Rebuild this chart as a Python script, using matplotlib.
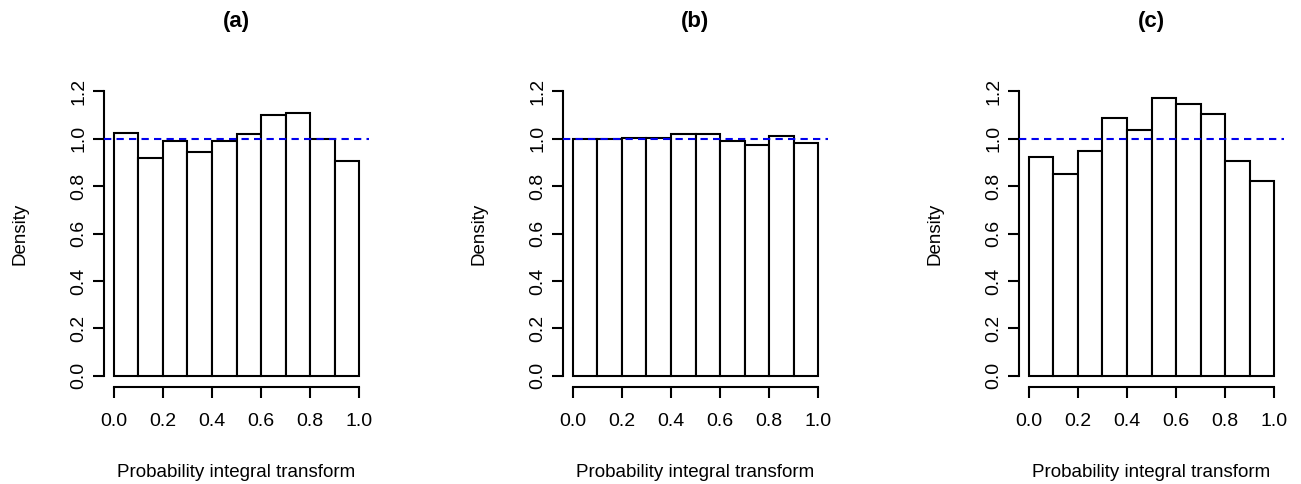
import numpy as np
import matplotlib.pyplot as plt

plt.rcParams['font.family'] = ['Liberation Sans', 'DejaVu Sans']

# PIT histogram densities, 10 equal bins on [0, 1]
bin_edges = np.linspace(0, 1, 11)
dens_a = [1.025, 0.917, 0.992, 0.945, 0.989, 1.019, 1.099, 1.109, 1.000, 0.908]
dens_b = [1.000, 1.000, 1.005, 1.005, 1.022, 1.019, 0.989, 0.973, 1.011, 0.980]
dens_c = [0.925, 0.853, 0.949, 1.088, 1.037, 1.171, 1.147, 1.103, 0.905, 0.822]
panel_titles = ['(a)', '(b)', '(c)']
x_ticks = [0.0, 0.2, 0.4, 0.6, 0.8, 1.0]
y_ticks = [0.0, 0.2, 0.4, 0.6, 0.8, 1.0, 1.2]

W, H = 1301, 484
fig = plt.figure(figsize=(W / 100, H / 100), dpi=100)

lefts = [104, 563, 1019]
width = 265
top, bottom = 80, 387

for left, dens, title in zip(lefts, [dens_a, dens_b, dens_c], panel_titles):
    ax = fig.add_axes([left / W, 1 - bottom / H, width / W, (bottom - top) / H])
    ax.bar(bin_edges[:-1], dens, width=np.diff(bin_edges), align='edge',
           facecolor='white', edgecolor='black', linewidth=1.5)
    ax.axhline(1.0, color='#0000ee', linewidth=1.5, dashes=(3.5, 2.5), zorder=3)

    ax.set_xlim(-0.04, 1.04)
    ax.set_ylim(-0.048, 1.248)
    for s in ['top', 'right']:
        ax.spines[s].set_visible(False)
    ax.spines['left'].set_bounds(0, 1.2)
    ax.spines['bottom'].set_bounds(0, 1)
    for s in ['left', 'bottom']:
        ax.spines[s].set_linewidth(1.5)

    ax.set_xticks(x_ticks)
    ax.set_xticklabels([f'{v:.1f}' for v in x_ticks])
    ax.set_yticks(y_ticks)
    ax.set_yticklabels([f'{v:.1f}' for v in y_ticks], rotation=90, va='center')
    ax.tick_params(axis='both', direction='out', length=8, width=1.5,
                   labelsize=14, colors='black')
    ax.tick_params(axis='x', pad=11)
    ax.tick_params(axis='y', pad=4)

    ax.set_xlabel('Probability integral transform', fontsize=13.5, labelpad=24)
    ax.set_ylabel('Density', fontsize=13.5, labelpad=30)
    ax.set_title(title, fontsize=16, fontweight='bold', pad=38)

fig.savefig('out.png', dpi=100, facecolor='white')
